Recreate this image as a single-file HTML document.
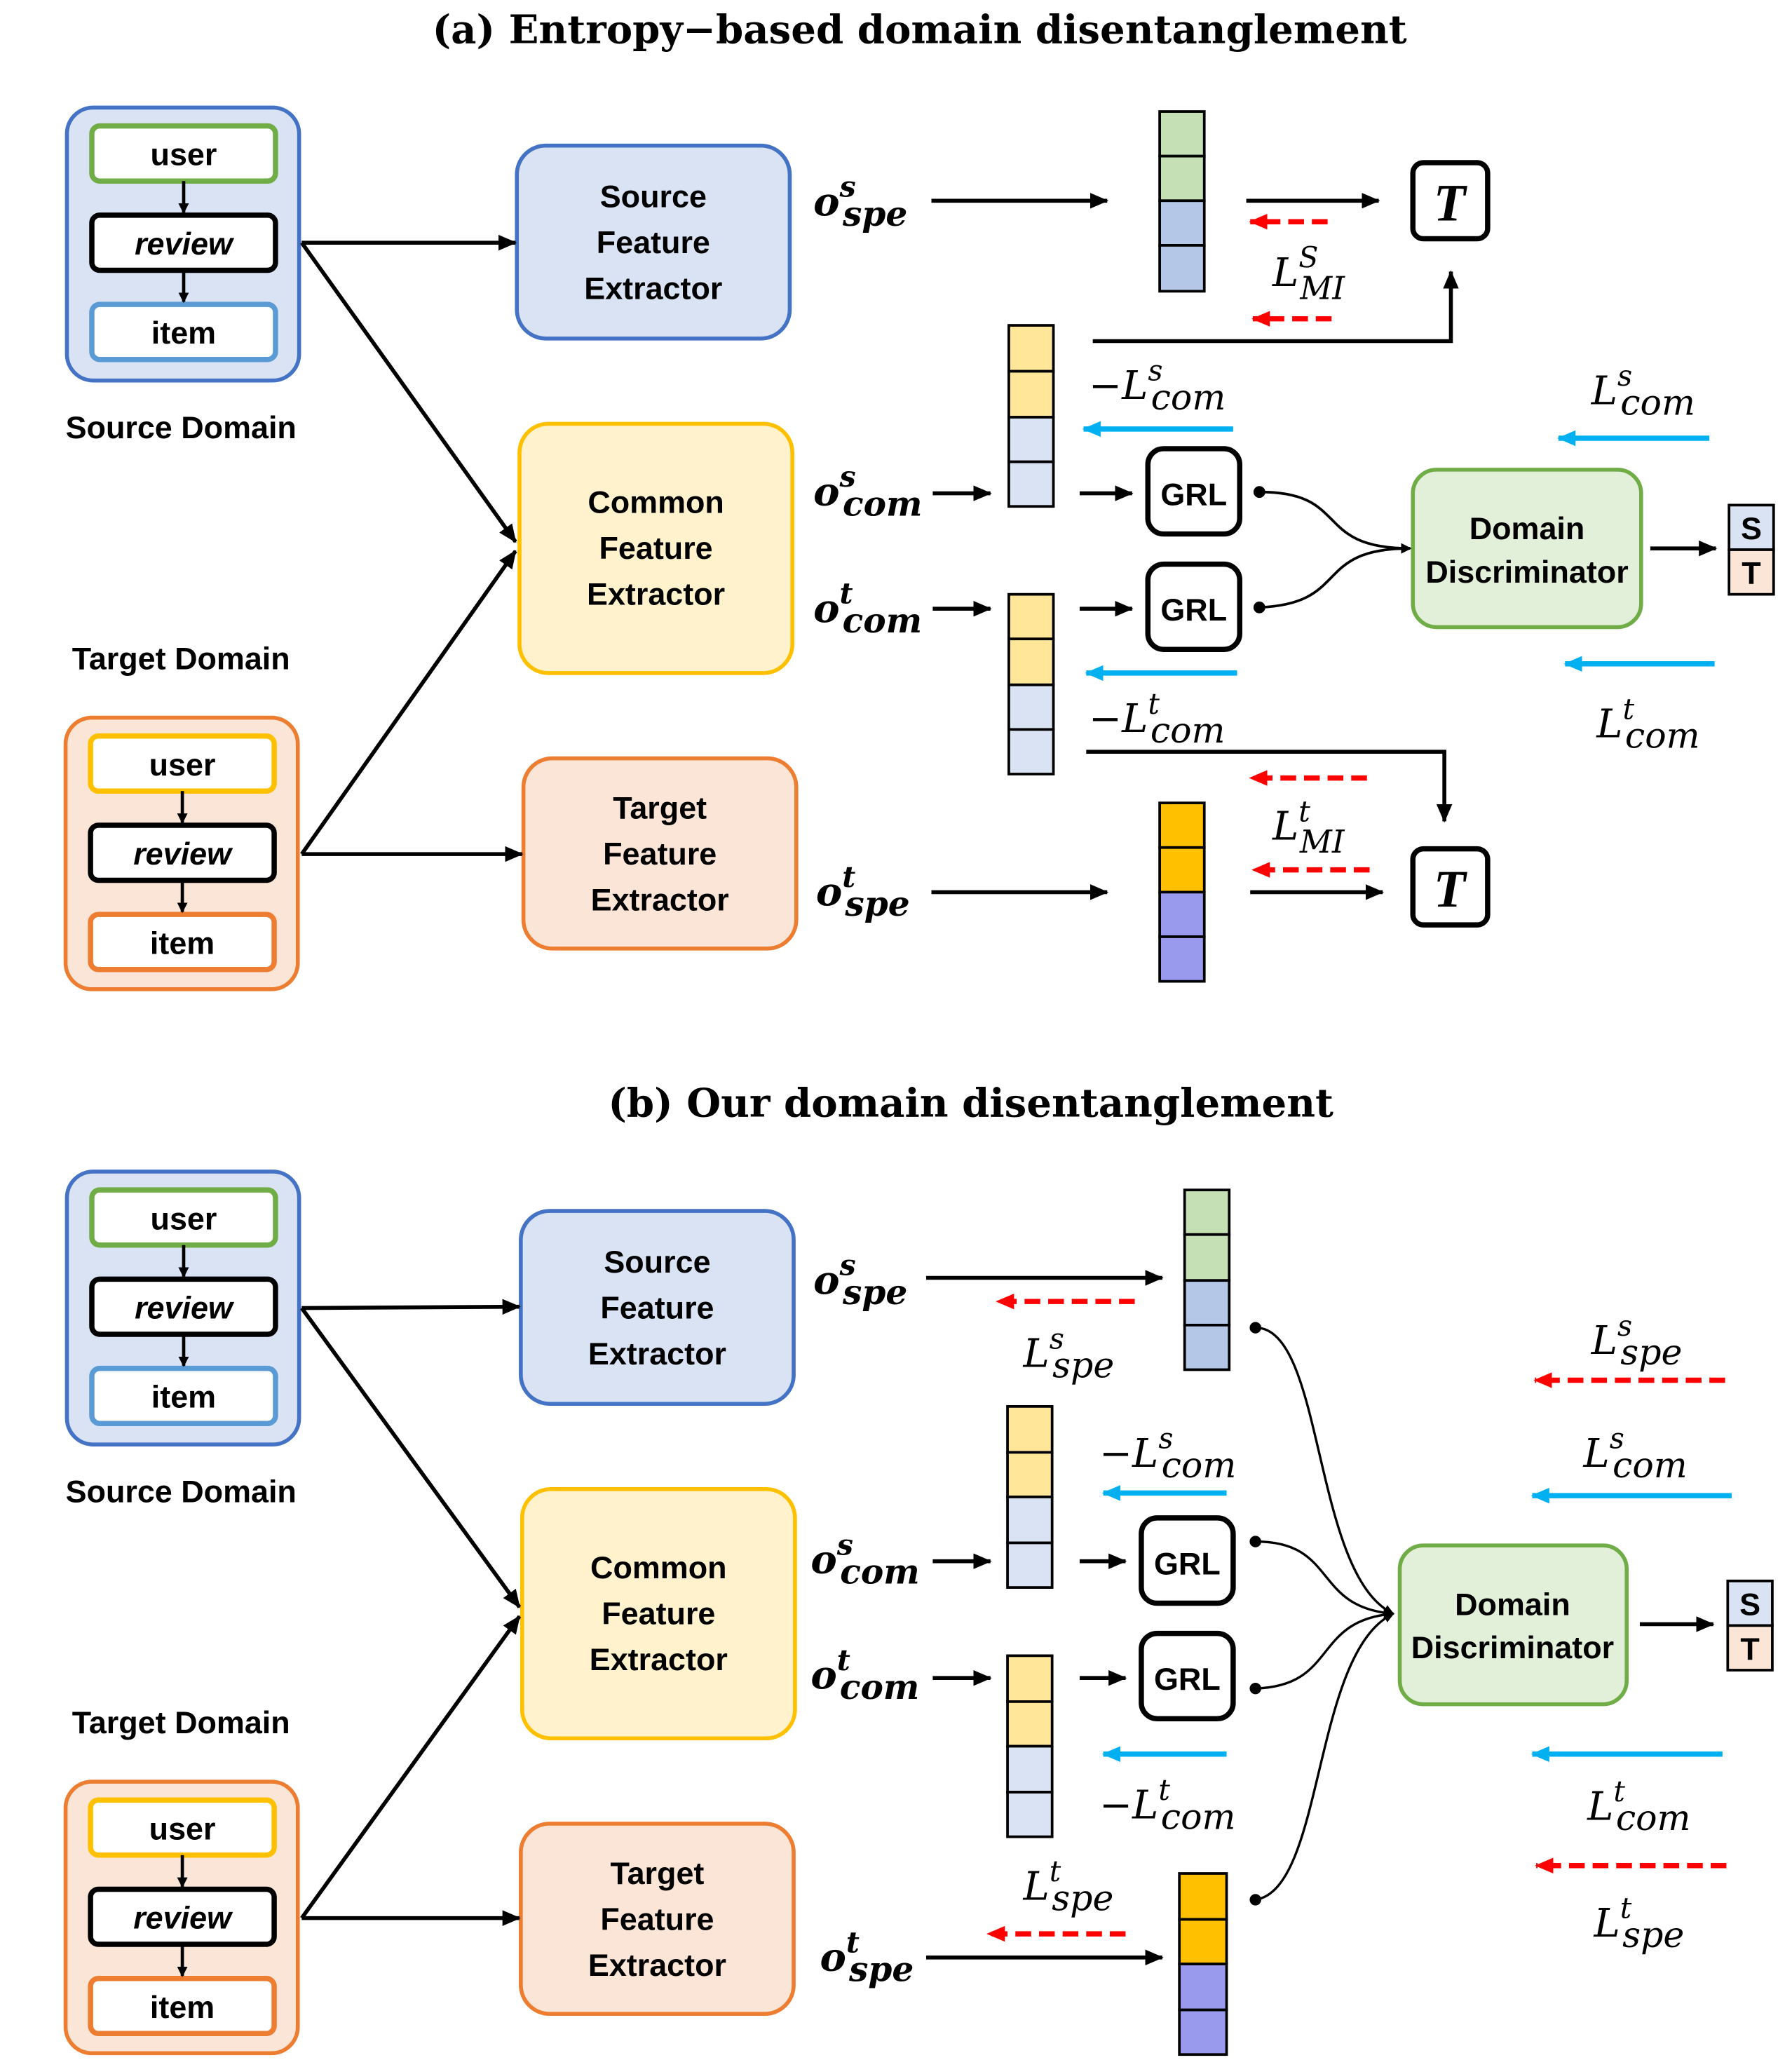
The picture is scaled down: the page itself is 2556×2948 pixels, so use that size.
<!DOCTYPE html>
<html><head><meta charset="utf-8"><style>
html,body{margin:0;padding:0;background:#fff}
svg{display:block}
.t{font-family:"DejaVu Serif","Liberation Serif",serif;font-weight:bold;font-size:30px}
.s{font-family:"Liberation Sans",sans-serif;font-weight:bold;font-size:24px}
.m{font-family:"DejaVu Serif","Liberation Serif",serif;font-style:italic;font-size:30px}
.o{font-family:"DejaVu Serif","Liberation Serif",serif;font-style:italic;font-weight:bold;font-size:30px}
</style></head><body>
<svg width="2556" height="2948" viewBox="0 0 1366 1575.5" xmlns="http://www.w3.org/2000/svg">
<defs>
<marker id="ak" markerWidth="8" markerHeight="8" refX="7" refY="4" orient="auto" markerUnits="userSpaceOnUse" viewBox="0 0 8 8"><path d="M0,0 L8,4 L0,8z" fill="#000"/></marker>
<marker id="akb" markerWidth="14" markerHeight="14" refX="13" refY="7" orient="auto" markerUnits="userSpaceOnUse" viewBox="0 0 14 14"><path d="M0,1 L14,7 L0,13z" fill="#000"/></marker>
<marker id="ar" markerWidth="14" markerHeight="14" refX="13" refY="7" orient="auto" markerUnits="userSpaceOnUse" viewBox="0 0 14 14"><path d="M0,1 L14,7 L0,13z" fill="#f00"/></marker>
<marker id="ab" markerWidth="14" markerHeight="14" refX="13" refY="7" orient="auto" markerUnits="userSpaceOnUse" viewBox="0 0 14 14"><path d="M0,1 L14,7 L0,13z" fill="#00b0f0"/></marker>
</defs>
<g fill="none">
<text class="t" x="701" y="33" text-anchor="middle" fill="#000">(a) Entropy−based domain disentanglement</text>

<g id="srcdom">
<rect x="51" y="82" width="177" height="208" rx="20" fill="#dae3f3" stroke="#4472c4" stroke-width="3"/>
<rect x="70" y="96" width="140" height="42" rx="6" fill="#fff" stroke="#70ad47" stroke-width="4"/>
<rect x="70" y="164" width="140" height="42" rx="6" fill="#fff" stroke="#000" stroke-width="4"/>
<rect x="70" y="232" width="140" height="42" rx="6" fill="#fff" stroke="#5b9bd5" stroke-width="4"/>
<line x1="140" y1="138" x2="140" y2="162" stroke="#000" stroke-width="2.5" marker-end="url(#ak)"/>
<line x1="140" y1="206" x2="140" y2="230" stroke="#000" stroke-width="2.5" marker-end="url(#ak)"/>
<text class="s" x="140" y="126" text-anchor="middle" fill="#000">user</text>
<text class="s" x="140" y="194" text-anchor="middle" fill="#000" font-style="italic">review</text>
<text class="s" x="140" y="262" text-anchor="middle" fill="#000">item</text>
<text class="s" x="138" y="334" text-anchor="middle" fill="#000">Source Domain</text>
</g>
<g id="tgtdom">
<text class="s" x="138" y="510" text-anchor="middle" fill="#000">Target Domain</text>
<rect x="50" y="547" width="177" height="207" rx="20" fill="#fbe5d6" stroke="#ed7d31" stroke-width="3"/>
<rect x="69" y="561" width="140" height="42" rx="6" fill="#fff" stroke="#ffc000" stroke-width="4"/>
<rect x="69" y="629" width="140" height="42" rx="6" fill="#fff" stroke="#000" stroke-width="4"/>
<rect x="69" y="697" width="140" height="42" rx="6" fill="#fff" stroke="#ed7d31" stroke-width="4"/>
<line x1="139" y1="603" x2="139" y2="627" stroke="#000" stroke-width="2.5" marker-end="url(#ak)"/>
<line x1="139" y1="671" x2="139" y2="695" stroke="#000" stroke-width="2.5" marker-end="url(#ak)"/>
<text class="s" x="139" y="591" text-anchor="middle" fill="#000">user</text>
<text class="s" x="139" y="659" text-anchor="middle" fill="#000" font-style="italic">review</text>
<text class="s" x="139" y="727" text-anchor="middle" fill="#000">item</text>
</g>

<rect x="394" y="111" width="208" height="147" rx="22" fill="#dae3f3" stroke="#4472c4" stroke-width="3"/>
<text class="s" x="498" y="158" text-anchor="middle" fill="#000">Source</text>
<text class="s" x="498" y="193" text-anchor="middle" fill="#000">Feature</text>
<text class="s" x="498" y="228" text-anchor="middle" fill="#000">Extractor</text>
<rect x="396" y="323" width="208" height="190" rx="22" fill="#fff2cc" stroke="#ffc000" stroke-width="3"/>
<text class="s" x="500" y="391" text-anchor="middle" fill="#000">Common</text>
<text class="s" x="500" y="426" text-anchor="middle" fill="#000">Feature</text>
<text class="s" x="500" y="461" text-anchor="middle" fill="#000">Extractor</text>
<rect x="399" y="578" width="208" height="145" rx="22" fill="#fbe5d6" stroke="#ed7d31" stroke-width="3"/>
<text class="s" x="503" y="624" text-anchor="middle" fill="#000">Target</text>
<text class="s" x="503" y="659" text-anchor="middle" fill="#000">Feature</text>
<text class="s" x="503" y="694" text-anchor="middle" fill="#000">Extractor</text>

<g stroke="#000" stroke-width="3">
<line x1="230" y1="185" x2="393" y2="185" marker-end="url(#akb)"/>
<line x1="230" y1="185" x2="393" y2="413" marker-end="url(#akb)"/>
<line x1="230" y1="651" x2="393" y2="420" marker-end="url(#akb)"/>
<line x1="230" y1="651" x2="398" y2="651" marker-end="url(#akb)"/>
</g>

<text class="o" x="620" y="164" fill="#000">o<tspan dy="-14" font-size="22">s</tspan><tspan dx="-10" dy="22" font-size="26">spe</tspan></text>
<text class="o" x="620" y="385" fill="#000">o<tspan dy="-14" font-size="22">s</tspan><tspan dx="-10" dy="22" font-size="26">com</tspan></text>
<text class="o" x="620" y="474" fill="#000">o<tspan dy="-14" font-size="22">t</tspan><tspan dx="-8" dy="22" font-size="26">com</tspan></text>
<text class="o" x="622" y="690" fill="#000">o<tspan dy="-14" font-size="22">t</tspan><tspan dx="-8" dy="22" font-size="26">spe</tspan></text>

<g stroke="#000" stroke-width="2">
<rect x="884" y="85" width="34" height="34" fill="#c5e0b4"/><rect x="884" y="119" width="34" height="34" fill="#c5e0b4"/><rect x="884" y="153" width="34" height="34" fill="#b4c7e7"/><rect x="884" y="187" width="34" height="35" fill="#b4c7e7"/>
<rect x="769" y="248" width="34" height="35" fill="#ffe699"/><rect x="769" y="283" width="34" height="35" fill="#ffe699"/><rect x="769" y="318" width="34" height="34" fill="#dae3f3"/><rect x="769" y="352" width="34" height="34" fill="#dae3f3"/>
<rect x="769" y="453" width="34" height="34" fill="#ffe699"/><rect x="769" y="487" width="34" height="35" fill="#ffe699"/><rect x="769" y="522" width="34" height="34" fill="#dae3f3"/><rect x="769" y="556" width="34" height="34" fill="#dae3f3"/>
<rect x="884" y="612" width="34" height="34" fill="#ffc000"/><rect x="884" y="646" width="34" height="34" fill="#ffc000"/><rect x="884" y="680" width="34" height="34" fill="#9999ee"/><rect x="884" y="714" width="34" height="34" fill="#9999ee"/>
</g>

<g stroke="#000" stroke-width="3">
<line x1="710" y1="153" x2="844" y2="153" marker-end="url(#akb)"/>
<line x1="711" y1="376" x2="755" y2="376" marker-end="url(#akb)"/>
<line x1="823" y1="376" x2="863" y2="376" marker-end="url(#akb)"/>
<line x1="711" y1="464" x2="755" y2="464" marker-end="url(#akb)"/>
<line x1="823" y1="464" x2="863" y2="464" marker-end="url(#akb)"/>
<line x1="710" y1="680" x2="844" y2="680" marker-end="url(#akb)"/>
<line x1="950" y1="153" x2="1051" y2="153" marker-end="url(#akb)"/>
<line x1="953" y1="680" x2="1054" y2="680" marker-end="url(#akb)"/>
<polyline points="833,260 1106,260 1106,207" marker-end="url(#akb)"/>
<polyline points="828,573 1101,573 1101,626" marker-end="url(#akb)"/>
<line x1="1258" y1="418" x2="1308" y2="418" marker-end="url(#akb)"/>
</g>
<rect x="875" y="342" width="70" height="65" rx="12" fill="#fff" stroke="#000" stroke-width="4"/>
<rect x="875" y="430" width="70" height="65" rx="12" fill="#fff" stroke="#000" stroke-width="4"/>
<text class="s" x="910" y="385" text-anchor="middle" fill="#000" font-size="26">GRL</text>
<text class="s" x="910" y="473" text-anchor="middle" fill="#000" font-size="26">GRL</text>
<rect x="1077" y="124" width="57" height="58" rx="8" fill="#fff" stroke="#000" stroke-width="4"/>
<rect x="1077" y="647" width="57" height="58" rx="8" fill="#fff" stroke="#000" stroke-width="4"/>
<text x="1105" y="168" text-anchor="middle" fill="#000" font-family="Liberation Serif,serif" font-style="italic" font-weight="bold" font-size="40">T</text>
<text x="1105" y="691" text-anchor="middle" fill="#000" font-family="Liberation Serif,serif" font-style="italic" font-weight="bold" font-size="40">T</text>

<rect x="1077" y="358" width="174" height="120" rx="18" fill="#e2efd9" stroke="#70ad47" stroke-width="3"/>
<text class="s" x="1164" y="411" text-anchor="middle" fill="#000" font-size="22">Domain</text>
<text class="s" x="1164" y="444" text-anchor="middle" fill="#000" font-size="22">Discriminator</text>
<rect x="1318" y="385" width="34" height="34" fill="#dae3f3" stroke="#000" stroke-width="2"/>
<rect x="1318" y="419" width="34" height="34" fill="#fbe5d6" stroke="#000" stroke-width="2"/>
<text class="s" x="1335" y="411" text-anchor="middle" fill="#000">S</text>
<text class="s" x="1335" y="445" text-anchor="middle" fill="#000">T</text>

<g stroke="#000" stroke-width="2">
<circle cx="960" cy="375" r="3.5" fill="#000"/><circle cx="960" cy="463" r="3.5" fill="#000"/>
<path d="M960,375 C1030,375 1000,418 1075,418" marker-end="url(#ak)"/>
<path d="M960,463 C1030,460 1000,418 1075,418" marker-end="url(#ak)"/>
</g>

<g stroke-width="4">
<line x1="1012" y1="169" x2="953" y2="169" stroke="#f00" stroke-dasharray="12,6" marker-end="url(#ar)"/>
<line x1="1015" y1="243" x2="955" y2="243" stroke="#f00" stroke-dasharray="12,6" marker-end="url(#ar)"/>
<line x1="1042" y1="593" x2="953" y2="593" stroke="#f00" stroke-dasharray="12,6" marker-end="url(#ar)"/>
<line x1="1044" y1="663" x2="955" y2="663" stroke="#f00" stroke-dasharray="12,6" marker-end="url(#ar)"/>
<line x1="940" y1="327" x2="826" y2="327" stroke="#00b0f0" marker-end="url(#ab)"/>
<line x1="943" y1="513" x2="828" y2="513" stroke="#00b0f0" marker-end="url(#ab)"/>
<line x1="1303" y1="334" x2="1188" y2="334" stroke="#00b0f0" marker-end="url(#ab)"/>
<line x1="1307" y1="506" x2="1193" y2="506" stroke="#00b0f0" marker-end="url(#ab)"/>
</g>

<text class="m" x="970" y="218" fill="#000">L<tspan dy="-14" font-size="22">S</tspan><tspan dx="-14" dy="24" font-size="24">MI</tspan></text>
<text class="m" x="970" y="640" fill="#000">L<tspan dy="-14" font-size="22">t</tspan><tspan dx="-8" dy="24" font-size="24">MI</tspan></text>
<text class="m" x="830" y="304" fill="#000">−L<tspan dy="-14" font-size="22">s</tspan><tspan dx="-9" dy="22" font-size="27">com</tspan></text>
<text class="m" x="830" y="558" fill="#000">−L<tspan dy="-14" font-size="22">t</tspan><tspan dx="-7" dy="22" font-size="27">com</tspan></text>
<text class="m" x="1213" y="308" fill="#000">L<tspan dy="-14" font-size="22">s</tspan><tspan dx="-9" dy="22" font-size="27">com</tspan></text>
<text class="m" x="1217" y="562" fill="#000">L<tspan dy="-14" font-size="22">t</tspan><tspan dx="-7" dy="22" font-size="27">com</tspan></text>

<!-- (b) -->
<text class="t" x="740" y="851" text-anchor="middle" fill="#000">(b) Our domain disentanglement</text>
<use href="#srcdom" transform="translate(0,811)"/>
<use href="#tgtdom" transform="translate(0,811)"/>

<rect x="397" y="923" width="208" height="147" rx="22" fill="#dae3f3" stroke="#4472c4" stroke-width="3"/>
<text class="s" x="501" y="970" text-anchor="middle" fill="#000">Source</text>
<text class="s" x="501" y="1005" text-anchor="middle" fill="#000">Feature</text>
<text class="s" x="501" y="1040" text-anchor="middle" fill="#000">Extractor</text>
<rect x="398" y="1135" width="208" height="190" rx="22" fill="#fff2cc" stroke="#ffc000" stroke-width="3"/>
<text class="s" x="502" y="1203" text-anchor="middle" fill="#000">Common</text>
<text class="s" x="502" y="1238" text-anchor="middle" fill="#000">Feature</text>
<text class="s" x="502" y="1273" text-anchor="middle" fill="#000">Extractor</text>
<rect x="397" y="1390" width="208" height="145" rx="22" fill="#fbe5d6" stroke="#ed7d31" stroke-width="3"/>
<text class="s" x="501" y="1436" text-anchor="middle" fill="#000">Target</text>
<text class="s" x="501" y="1471" text-anchor="middle" fill="#000">Feature</text>
<text class="s" x="501" y="1506" text-anchor="middle" fill="#000">Extractor</text>

<g stroke="#000" stroke-width="3">
<line x1="230" y1="997" x2="396" y2="996" marker-end="url(#akb)"/>
<line x1="230" y1="997" x2="396" y2="1225" marker-end="url(#akb)"/>
<line x1="230" y1="1462" x2="396" y2="1232" marker-end="url(#akb)"/>
<line x1="230" y1="1462" x2="396" y2="1462" marker-end="url(#akb)"/>
<line x1="706" y1="974" x2="886" y2="974" marker-end="url(#akb)"/>
<line x1="711" y1="1190" x2="755" y2="1190" marker-end="url(#akb)"/>
<line x1="823" y1="1190" x2="858" y2="1190" marker-end="url(#akb)"/>
<line x1="711" y1="1279" x2="755" y2="1279" marker-end="url(#akb)"/>
<line x1="823" y1="1279" x2="858" y2="1279" marker-end="url(#akb)"/>
<line x1="706" y1="1492" x2="886" y2="1492" marker-end="url(#akb)"/>
<line x1="1250" y1="1238" x2="1306" y2="1238" marker-end="url(#akb)"/>
</g>

<text class="o" x="620" y="986" fill="#000">o<tspan dy="-14" font-size="22">s</tspan><tspan dx="-10" dy="22" font-size="26">spe</tspan></text>
<text class="o" x="618" y="1199" fill="#000">o<tspan dy="-14" font-size="22">s</tspan><tspan dx="-10" dy="22" font-size="26">com</tspan></text>
<text class="o" x="618" y="1287" fill="#000">o<tspan dy="-14" font-size="22">t</tspan><tspan dx="-8" dy="22" font-size="26">com</tspan></text>
<text class="o" x="625" y="1502" fill="#000">o<tspan dy="-14" font-size="22">t</tspan><tspan dx="-8" dy="22" font-size="26">spe</tspan></text>

<g stroke="#000" stroke-width="2">
<rect x="903" y="907" width="34" height="34" fill="#c5e0b4"/><rect x="903" y="941" width="34" height="35" fill="#c5e0b4"/><rect x="903" y="976" width="34" height="34" fill="#b4c7e7"/><rect x="903" y="1010" width="34" height="34" fill="#b4c7e7"/>
<rect x="768" y="1072" width="34" height="35" fill="#ffe699"/><rect x="768" y="1107" width="34" height="34" fill="#ffe699"/><rect x="768" y="1141" width="34" height="35" fill="#dae3f3"/><rect x="768" y="1176" width="34" height="34" fill="#dae3f3"/>
<rect x="768" y="1262" width="34" height="35" fill="#ffe699"/><rect x="768" y="1297" width="34" height="34" fill="#ffe699"/><rect x="768" y="1331" width="34" height="35" fill="#dae3f3"/><rect x="768" y="1366" width="34" height="34" fill="#dae3f3"/>
<rect x="899" y="1428" width="36" height="35" fill="#ffc000"/><rect x="899" y="1463" width="36" height="34" fill="#ffc000"/><rect x="899" y="1497" width="36" height="35" fill="#9999ee"/><rect x="899" y="1532" width="36" height="34" fill="#9999ee"/>
</g>

<rect x="870" y="1157" width="70" height="65" rx="12" fill="#fff" stroke="#000" stroke-width="4"/>
<rect x="870" y="1245" width="70" height="65" rx="12" fill="#fff" stroke="#000" stroke-width="4"/>
<text class="s" x="905" y="1200" text-anchor="middle" fill="#000" font-size="26">GRL</text>
<text class="s" x="905" y="1288" text-anchor="middle" fill="#000" font-size="26">GRL</text>

<rect x="1067" y="1178" width="173" height="121" rx="18" fill="#e2efd9" stroke="#70ad47" stroke-width="3"/>
<text class="s" x="1153" y="1231" text-anchor="middle" fill="#000" font-size="22">Domain</text>
<text class="s" x="1153" y="1264" text-anchor="middle" fill="#000" font-size="22">Discriminator</text>
<rect x="1317" y="1205" width="34" height="34" fill="#dae3f3" stroke="#000" stroke-width="2"/>
<rect x="1317" y="1239" width="34" height="34" fill="#fbe5d6" stroke="#000" stroke-width="2"/>
<text class="s" x="1334" y="1231" text-anchor="middle" fill="#000">S</text>
<text class="s" x="1334" y="1265" text-anchor="middle" fill="#000">T</text>

<g stroke="#000" stroke-width="1.8">
<circle cx="957" cy="1012" r="3.5" fill="#000"/><circle cx="957" cy="1175" r="3.5" fill="#000"/><circle cx="957" cy="1287" r="3.5" fill="#000"/><circle cx="957" cy="1448" r="3.5" fill="#000"/>
<path d="M957,1012 C1010,1012 1000,1200 1062,1230" marker-end="url(#ak)"/>
<path d="M957,1175 C1020,1175 1000,1225 1062,1230" marker-end="url(#ak)"/>
<path d="M957,1287 C1020,1285 1000,1235 1062,1230" marker-end="url(#ak)"/>
<path d="M957,1448 C1010,1440 1000,1260 1062,1230" marker-end="url(#ak)"/>
</g>

<g stroke-width="4">
<line x1="865" y1="992" x2="760" y2="992" stroke="#f00" stroke-dasharray="12,6" marker-end="url(#ar)"/>
<line x1="858" y1="1474" x2="753" y2="1474" stroke="#f00" stroke-dasharray="12,6" marker-end="url(#ar)"/>
<line x1="1315" y1="1052" x2="1170" y2="1052" stroke="#f00" stroke-dasharray="12,6" marker-end="url(#ar)"/>
<line x1="1316" y1="1422" x2="1171" y2="1422" stroke="#f00" stroke-dasharray="12,6" marker-end="url(#ar)"/>
<line x1="935" y1="1138" x2="841" y2="1138" stroke="#00b0f0" marker-end="url(#ab)"/>
<line x1="935" y1="1337" x2="841" y2="1337" stroke="#00b0f0" marker-end="url(#ab)"/>
<line x1="1320" y1="1140" x2="1168" y2="1140" stroke="#00b0f0" marker-end="url(#ab)"/>
<line x1="1313" y1="1337" x2="1168" y2="1337" stroke="#00b0f0" marker-end="url(#ab)"/>
</g>

<text class="m" x="780" y="1042" fill="#000">L<tspan dy="-14" font-size="22">s</tspan><tspan dx="-9" dy="22" font-size="27">spe</tspan></text>
<text class="m" x="780" y="1448" fill="#000">L<tspan dy="-14" font-size="22">t</tspan><tspan dx="-7" dy="22" font-size="27">spe</tspan></text>
<text class="m" x="838" y="1118" fill="#000">−L<tspan dy="-14" font-size="22">s</tspan><tspan dx="-9" dy="22" font-size="27">com</tspan></text>
<text class="m" x="838" y="1386" fill="#000">−L<tspan dy="-14" font-size="22">t</tspan><tspan dx="-7" dy="22" font-size="27">com</tspan></text>
<text class="m" x="1213" y="1032" fill="#000">L<tspan dy="-14" font-size="22">s</tspan><tspan dx="-9" dy="22" font-size="27">spe</tspan></text>
<text class="m" x="1207" y="1118" fill="#000">L<tspan dy="-14" font-size="22">s</tspan><tspan dx="-9" dy="22" font-size="27">com</tspan></text>
<text class="m" x="1210" y="1387" fill="#000">L<tspan dy="-14" font-size="22">t</tspan><tspan dx="-7" dy="22" font-size="27">com</tspan></text>
<text class="m" x="1215" y="1476" fill="#000">L<tspan dy="-14" font-size="22">t</tspan><tspan dx="-7" dy="22" font-size="27">spe</tspan></text>
</g>
</svg>
</body></html>
